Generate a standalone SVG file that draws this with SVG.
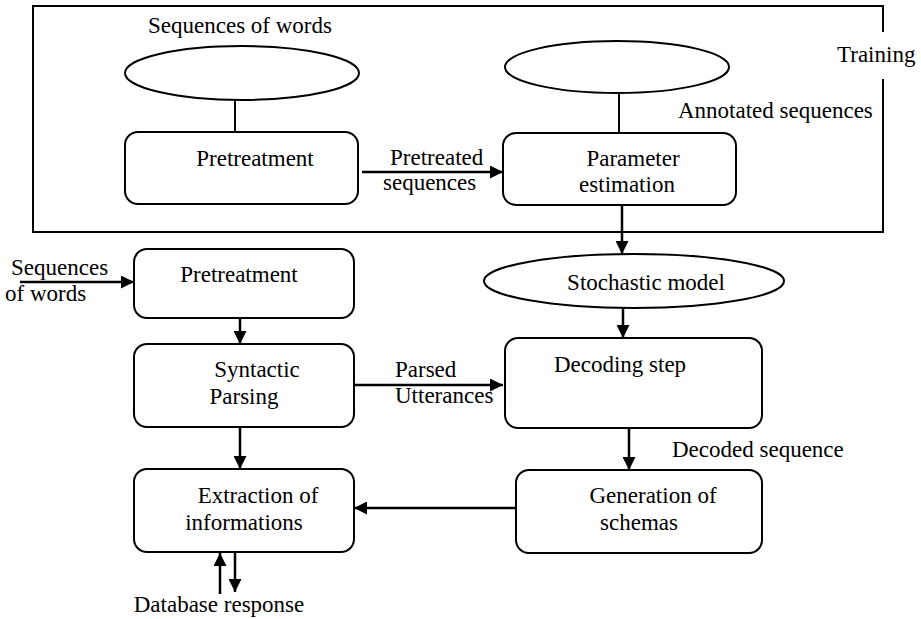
<svg xmlns="http://www.w3.org/2000/svg" width="921" height="619" viewBox="0 0 921 619">
  <style>
    .box { fill: #fff; stroke: #000; stroke-width: 2; }
    .ell { fill: #fff; stroke: #000; stroke-width: 2; }
    .line { fill: none; stroke: #000; stroke-width: 2; }
    .arrow { fill: none; stroke: #000; stroke-width: 2.5; marker-end: url(#head); }
    text { font-family: "Liberation Serif", "Times New Roman", serif; font-size: 23px; fill: #000; }
    .mid { text-anchor: middle; }
  </style>
  <defs>
    <marker id="head" markerUnits="userSpaceOnUse" markerWidth="13" markerHeight="13" refX="13" refY="6.5" orient="auto">
      <path d="M0,0 L13,6.5 L0,13 z" fill="#000"/>
    </marker>
  </defs>
  <rect width="921" height="619" fill="#fff"/>

  <!-- training frame, with an opening on the right side for its label -->
  <g id="training">
    <path class="line" d="M883,32 V6 H33 V232 H883 V79"/>
    <text x="837" y="62">Training</text>
  </g>

  <g id="train-words">
    <text class="mid" x="240" y="33">Sequences of words</text>
    <ellipse class="ell" cx="242" cy="73" rx="117" ry="27"/>
  </g>

  <g id="train-pretreatment">
    <rect class="box" x="125" y="132" width="233" height="72" rx="13"/>
    <text class="mid" x="255" y="166">Pretreatment</text>
  </g>

  <g id="annotated">
    <ellipse class="ell" cx="617" cy="67" rx="112" ry="26"/>
    <text x="678" y="118">Annotated sequences</text>
  </g>

  <g id="parameter-estimation">
    <rect class="box" x="503" y="133" width="233" height="72" rx="13"/>
    <text class="mid" x="633" y="166">Parameter</text>
    <text class="mid" x="627" y="192">estimation</text>
  </g>

  <g id="stochastic-model">
    <ellipse class="ell" cx="634" cy="281" rx="150" ry="27"/>
    <text class="mid" x="646" y="290">Stochastic model</text>
  </g>

  <g id="pretreatment">
    <rect class="box" x="134" y="249" width="220" height="69" rx="13"/>
    <text class="mid" x="239" y="282">Pretreatment</text>
  </g>

  <g id="syntactic-parsing">
    <rect class="box" x="134" y="344" width="220" height="83" rx="13"/>
    <text class="mid" x="257" y="377">Syntactic</text>
    <text class="mid" x="244" y="404">Parsing</text>
  </g>

  <g id="decoding-step">
    <rect class="box" x="505" y="338" width="257" height="90" rx="13"/>
    <text class="mid" x="620" y="372">Decoding step</text>
  </g>

  <g id="extraction">
    <rect class="box" x="134" y="469" width="220" height="83" rx="13"/>
    <text class="mid" x="258" y="503">Extraction of</text>
    <text class="mid" x="244" y="530">informations</text>
  </g>

  <g id="generation">
    <rect class="box" x="516" y="470" width="246" height="83" rx="13"/>
    <text class="mid" x="653" y="503">Generation of</text>
    <text class="mid" x="639" y="530">schemas</text>
  </g>

  <g id="connectors">
    <line class="line" x1="235" y1="100" x2="235" y2="132"/>
    <line class="line" x1="619" y1="93" x2="619" y2="133"/>
    <line class="arrow" x1="362" y1="172" x2="503" y2="172"/>
    <line class="arrow" x1="622" y1="205" x2="622" y2="254"/>
    <line class="arrow" x1="623" y1="308" x2="623" y2="338"/>
    <line class="arrow" x1="20" y1="282" x2="134" y2="282"/>
    <line class="arrow" x1="240" y1="318" x2="240" y2="344"/>
    <line class="arrow" x1="354" y1="385" x2="503" y2="385"/>
    <line class="arrow" x1="240" y1="427" x2="240" y2="469"/>
    <line class="arrow" x1="629" y1="428" x2="629" y2="470"/>
    <line class="arrow" x1="516" y1="508" x2="354" y2="508"/>
    <line class="arrow" x1="220" y1="594" x2="220" y2="553"/>
    <line class="arrow" x1="235" y1="553" x2="235" y2="592"/>
  </g>

  <g id="labels">
    <text x="390" y="165">Pretreated</text>
    <text x="383" y="190">sequences</text>
    <text x="11" y="275">Sequences</text>
    <text x="5" y="301">of words</text>
    <text x="395" y="377">Parsed</text>
    <text x="395" y="403">Utterances</text>
    <text x="672" y="457">Decoded sequence</text>
    <text class="mid" x="219" y="612">Database response</text>
  </g>
</svg>
